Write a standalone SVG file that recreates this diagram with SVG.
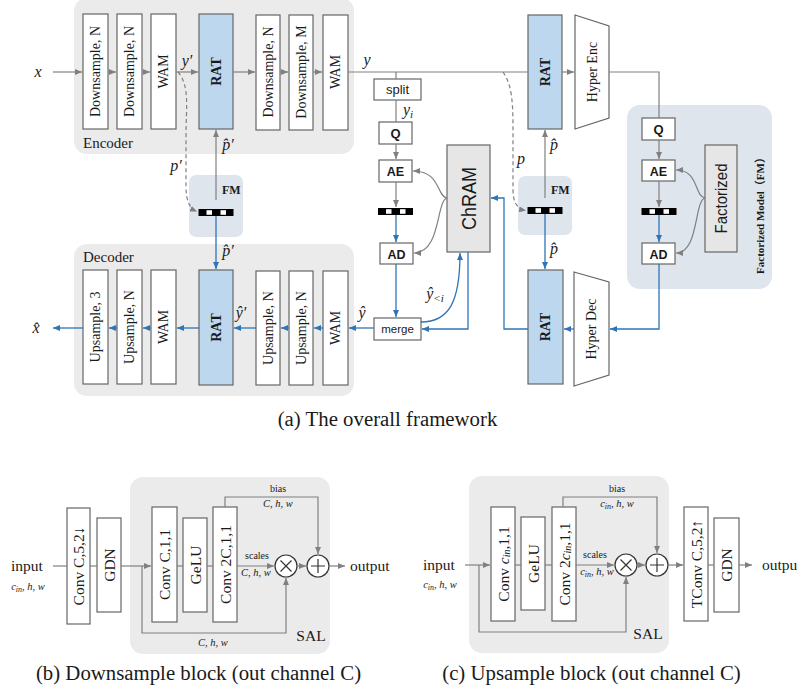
<svg xmlns="http://www.w3.org/2000/svg" width="797" height="698" viewBox="0 0 797 698">
  <style>
    .blk { fill: #ffffff; stroke: #666666; stroke-width: 1.2; }
    .rat { fill: #bdd7ee; stroke: #666666; stroke-width: 1.2; }
    .gbox { fill: #e6e6e6; stroke: #666666; stroke-width: 1.2; }
    .sbox { fill: #ffffff; stroke: #666666; stroke-width: 1.2; }
    .panel { fill: #ebebeb; }
    .fmpanel { fill: #dfe5ed; }
    .g { fill: none; stroke: #808080; stroke-width: 1.2; }
    .b { fill: none; stroke: #2f75b5; stroke-width: 1.3; }
    .dash { stroke-dasharray: 4 3; }
    .t { font-family: "Liberation Serif", "Times New Roman", serif; fill: #1a1a1a; }
    .vt { font-family: "Liberation Serif", "Times New Roman", serif; fill: #1a1a1a; font-size: 14px; text-anchor: middle; dominant-baseline: central; }
    .vb { font-weight: bold; }
    .m { font-family: "Liberation Serif", "Times New Roman", serif; font-style: italic; font-size: 16px; fill: #1a1a1a; text-anchor: middle; }
    .sm { font-family: "Liberation Serif", "Times New Roman", serif; font-style: italic; font-size: 10.5px; fill: #1a1a1a; text-anchor: middle; }
    .sans { font-family: "Liberation Sans", Arial, sans-serif; fill: #1a1a1a; text-anchor: middle; }
    .cap { font-family: "Liberation Serif", "Times New Roman", serif; font-size: 20.8px; fill: #1a1a1a; text-anchor: middle; }
    .bt { font-size: 15.5px; }
    .op { fill: #ffffff; stroke: #333333; stroke-width: 1.2; }
  </style>
  <defs>
    <marker id="ag" markerUnits="userSpaceOnUse" markerWidth="7" markerHeight="6" refX="7" refY="3" orient="auto">
      <path d="M0,0 L7,3 L0,6 z" fill="#808080"/>
    </marker>
    <marker id="ab" markerUnits="userSpaceOnUse" markerWidth="7" markerHeight="6" refX="7" refY="3" orient="auto">
      <path d="M0,0 L7,3 L0,6 z" fill="#2f75b5"/>
    </marker>
    <g id="qstrip">
      <rect x="0" y="0" width="35" height="7" fill="#000000"/>
      <rect x="8" y="1.2" width="5.5" height="4.6" fill="#ffffff"/>
      <rect x="22" y="1.2" width="5.5" height="4.6" fill="#ffffff"/>
    </g>
  </defs>

  <!-- ===== (a) overall framework ===== -->
  <g id="encoder">
    <rect class="panel" x="74" y="-2" width="280" height="156" rx="13"/>
    <text class="t" x="83" y="148" font-size="15">Encoder</text>
    <g id="enc-ds1"><rect class="blk" x="83" y="14" width="25" height="115"/><text class="vt" transform="translate(95.5,71.5) rotate(-90)">Downsample, N</text></g>
    <g id="enc-ds2"><rect class="blk" x="117" y="14" width="25" height="115"/><text class="vt" transform="translate(129.5,71.5) rotate(-90)">Downsample, N</text></g>
    <g id="enc-wam1"><rect class="blk" x="151" y="14" width="25" height="115"/><text class="vt" transform="translate(163.5,71.5) rotate(-90)">WAM</text></g>
    <g id="enc-rat"><rect class="rat" x="199" y="14" width="34" height="115"/><text class="vt vb" transform="translate(216,71.5) rotate(-90)">RAT</text></g>
    <g id="enc-ds3"><rect class="blk" x="256" y="15" width="24" height="115"/><text class="vt" transform="translate(268,72) rotate(-90)">Downsample, N</text></g>
    <g id="enc-ds4"><rect class="blk" x="289" y="15" width="24" height="115"/><text class="vt" transform="translate(301,72) rotate(-90)">Downsample, M</text></g>
    <g id="enc-wam2"><rect class="blk" x="323" y="15" width="25" height="115"/><text class="vt" transform="translate(335.5,72) rotate(-90)">WAM</text></g>
  </g>

  <g id="decoder">
    <rect class="panel" x="74" y="244" width="280" height="152" rx="13"/>
    <text class="t" x="83" y="262" font-size="15">Decoder</text>
    <g id="dec-us3"><rect class="blk" x="83" y="270" width="25" height="114"/><text class="vt" transform="translate(95.5,327) rotate(-90)">Upsample, 3</text></g>
    <g id="dec-us2"><rect class="blk" x="117" y="270" width="25" height="114"/><text class="vt" transform="translate(129.5,327) rotate(-90)">Upsample, N</text></g>
    <g id="dec-wam1"><rect class="blk" x="151" y="270" width="25" height="114"/><text class="vt" transform="translate(163.5,327) rotate(-90)">WAM</text></g>
    <g id="dec-rat"><rect class="rat" x="199" y="270" width="34" height="115"/><text class="vt vb" transform="translate(216,327.5) rotate(-90)">RAT</text></g>
    <g id="dec-us1"><rect class="blk" x="256" y="271" width="24" height="114"/><text class="vt" transform="translate(268,328) rotate(-90)">Upsample, N</text></g>
    <g id="dec-us0"><rect class="blk" x="289" y="271" width="24" height="114"/><text class="vt" transform="translate(301,328) rotate(-90)">Upsample, N</text></g>
    <g id="dec-wam2"><rect class="blk" x="323" y="271" width="25" height="114"/><text class="vt" transform="translate(335.5,328) rotate(-90)">WAM</text></g>
  </g>

  <g id="fm-left">
    <rect class="fmpanel" x="189" y="175" width="54" height="62" rx="7"/>
    <text class="t" x="222" y="194" font-size="12" font-weight="bold">FM</text>
    <use href="#qstrip" x="198.5" y="209"/>
  </g>

  <g id="fm-mid">
    <rect class="fmpanel" x="518" y="176" width="54" height="59" rx="7"/>
    <text class="t" x="551" y="194" font-size="12" font-weight="bold">FM</text>
    <use href="#qstrip" x="527.5" y="207"/>
  </g>

  <g id="split"><rect class="sbox" x="374" y="79" width="47" height="21"/><text class="sans" x="397.5" y="94" font-size="13">split</text></g>
  <g id="q1"><rect class="sbox" x="379" y="122" width="33" height="22"/><text class="sans" x="395.5" y="138" font-size="13" font-weight="bold">Q</text></g>
  <g id="ae1"><rect class="sbox" x="379" y="160" width="33" height="22"/><text class="sans" x="395.5" y="176" font-size="12.5" font-weight="bold">AE</text></g>
  <g id="strip1"><use href="#qstrip" x="378" y="208"/></g>
  <g id="ad1"><rect class="sbox" x="380" y="243" width="33" height="21"/><text class="sans" x="396.5" y="258.5" font-size="12.5" font-weight="bold">AD</text></g>
  <g id="merge"><rect class="sbox" x="374" y="318" width="47" height="22"/><text class="sans" x="397.5" y="333" font-size="11.5">merge</text></g>
  <g id="chram"><rect class="gbox" x="447" y="145" width="43" height="107"/><text class="sans" transform="translate(468.5,198.5) rotate(-90)" font-size="20" dominant-baseline="central" textLength="63" lengthAdjust="spacingAndGlyphs">ChRAM</text></g>

  <g id="rat-hyper-enc"><rect class="rat" x="528" y="15" width="34" height="114"/><text class="vt vb" transform="translate(545,72) rotate(-90)">RAT</text></g>
  <g id="hyper-enc"><polygon class="blk" points="575,15 609,26 609,118 575,129"/><text class="vt" font-size="16" transform="translate(592,72) rotate(-90)">Hyper Enc</text></g>
  <g id="rat-hyper-dec"><rect class="rat" x="528" y="270" width="35" height="114"/><text class="vt vb" transform="translate(545.5,327) rotate(-90)">RAT</text></g>
  <g id="hyper-dec"><polygon class="blk" points="574,272 609,282 609,375 574,386"/><text class="vt" font-size="16" transform="translate(591.5,329) rotate(-90)">Hyper Dec</text></g>

  <g id="fm-right">
    <rect class="fmpanel" x="627" y="105" width="145" height="184" rx="13"/>
    <g id="q2"><rect class="sbox" x="642" y="118" width="33" height="22"/><text class="sans" x="658.5" y="134" font-size="13" font-weight="bold">Q</text></g>
    <g id="ae2"><rect class="sbox" x="642" y="160" width="33" height="21"/><text class="sans" x="658.5" y="175.5" font-size="12.5" font-weight="bold">AE</text></g>
    <use href="#qstrip" x="641.5" y="208"/>
    <g id="ad2"><rect class="sbox" x="642" y="243" width="33" height="21"/><text class="sans" x="658.5" y="258.5" font-size="12.5" font-weight="bold">AD</text></g>
    <g id="factorized"><rect class="gbox" x="705" y="145" width="32" height="107"/><text class="sans" transform="translate(721,198.5) rotate(-90)" font-size="17" dominant-baseline="central" textLength="70" lengthAdjust="spacingAndGlyphs">Factorized</text></g>
    <text class="t" transform="translate(760,213) rotate(-90)" font-size="11" font-weight="bold" text-anchor="middle" dominant-baseline="central" style="font-family:'Liberation Serif','Noto Sans CJK SC',serif">Factorized Model（FM）</text>
  </g>

  <!-- ===== (b) downsample block ===== -->
  <g id="sal-down">
    <rect class="panel" x="130" y="477" width="200" height="177" rx="13"/>
    <text class="t" x="311" y="641" font-size="15.5" text-anchor="middle">SAL</text>
  </g>
  <g id="down-in">
    <text class="t" x="27" y="571" font-size="15.5" text-anchor="middle">input</text>
    <text class="sm" x="28" y="590">c<tspan font-size="8" dy="2">in</tspan><tspan dy="-2">, h, w</tspan></text>
  </g>
  <g id="down-conv"><rect class="blk" x="67" y="508" width="23" height="116"/><text class="vt bt" transform="translate(78.5,566) rotate(-90)">Conv C,5,2↓</text></g>
  <g id="down-gdn"><rect class="blk" x="97" y="518" width="24" height="94"/><text class="vt bt" transform="translate(109,565) rotate(-90)">GDN</text></g>
  <g id="down-conv1"><rect class="blk" x="152" y="507" width="25" height="115"/><text class="vt bt" transform="translate(164.5,564.5) rotate(-90)">Conv C,1,1</text></g>
  <g id="down-gelu"><rect class="blk" x="183" y="518" width="24" height="94"/><text class="vt bt" transform="translate(195,565) rotate(-90)">GeLU</text></g>
  <g id="down-conv2"><rect class="blk" x="213" y="507" width="24" height="115"/><text class="vt bt" transform="translate(225,564.5) rotate(-90)">Conv 2C,1,1</text></g>
  <g id="down-mul"><circle class="op" cx="286" cy="566" r="11"/><path d="M280.5,560.5 L291.5,571.5 M291.5,560.5 L280.5,571.5" stroke="#333" stroke-width="1.2"/></g>
  <g id="down-add"><circle class="op" cx="318" cy="566" r="11"/><path d="M318,559 V573 M311,566 H325" stroke="#333" stroke-width="1.2"/></g>
  <g id="down-labels">
    <text class="t" x="278" y="492" font-size="10" text-anchor="middle">bias</text>
    <text class="sm" x="278" y="507">C, h, w</text>
    <text class="t" x="257" y="559" font-size="10" text-anchor="middle">scales</text>
    <text class="sm" x="256" y="576">C, h, w</text>
    <text class="sm" x="213" y="646">C, h, w</text>
    <text class="t" x="350" y="571" font-size="15.5">output</text>
  </g>

  <!-- ===== (c) upsample block ===== -->
  <g id="sal-up">
    <rect class="panel" x="469" y="476" width="200" height="177" rx="13"/>
    <text class="t" x="648" y="639" font-size="15.5" text-anchor="middle">SAL</text>
  </g>
  <g id="up-in">
    <text class="t" x="439" y="570" font-size="15.5" text-anchor="middle">input</text>
    <text class="sm" x="440" y="588">c<tspan font-size="8" dy="2">in</tspan><tspan dy="-2">, h, w</tspan></text>
  </g>
  <g id="up-conv1"><rect class="blk" x="491" y="507" width="24" height="114"/><text class="vt bt" transform="translate(503,564) rotate(-90)">Conv <tspan font-style="italic">c</tspan><tspan font-style="italic" font-size="10" dy="3">in</tspan><tspan dy="-3">,1,1</tspan></text></g>
  <g id="up-gelu"><rect class="blk" x="521" y="517" width="24" height="93"/><text class="vt bt" transform="translate(533,563.5) rotate(-90)">GeLU</text></g>
  <g id="up-conv2"><rect class="blk" x="552" y="507" width="24" height="114"/><text class="vt bt" transform="translate(564,564) rotate(-90)">Conv 2<tspan font-style="italic">c</tspan><tspan font-style="italic" font-size="10" dy="3">in</tspan><tspan dy="-3">,1,1</tspan></text></g>
  <g id="up-mul"><circle class="op" cx="626" cy="565" r="11"/><path d="M620.5,559.5 L631.5,570.5 M631.5,559.5 L620.5,570.5" stroke="#333" stroke-width="1.2"/></g>
  <g id="up-add"><circle class="op" cx="657" cy="565" r="11"/><path d="M657,558 V572 M650,565 H664" stroke="#333" stroke-width="1.2"/></g>
  <g id="up-tconv"><rect class="blk" x="684" y="507" width="24" height="114"/><text class="vt bt" transform="translate(696,564) rotate(-90)">TConv C,5,2↑</text></g>
  <g id="up-gdn"><rect class="blk" x="714" y="518" width="25" height="94"/><text class="vt bt" transform="translate(726.5,565) rotate(-90)">GDN</text></g>
  <g id="up-labels">
    <text class="t" x="617" y="492" font-size="10" text-anchor="middle">bias</text>
    <text class="sm" x="617" y="507">c<tspan font-size="8" dy="2">in</tspan><tspan dy="-2">, h, w</tspan></text>
    <text class="t" x="595" y="558" font-size="10" text-anchor="middle">scales</text>
    <text class="sm" x="597" y="575">c<tspan font-size="8" dy="2">in</tspan><tspan dy="-2">, h, w</tspan></text>
    <text class="t" x="762" y="570" font-size="15.5">outpu</text>
  </g>

  <g id="connectors">
    <!-- encoder path -->
    <path class="g" d="M53,72 H82" marker-end="url(#ag)"/>
    <path class="g" d="M108,72 H116" marker-end="url(#ag)"/>
    <path class="g" d="M142,72 H150" marker-end="url(#ag)"/>
    <path class="g" d="M176,72 H198" marker-end="url(#ag)"/>
    <path class="g" d="M233,72 H255" marker-end="url(#ag)"/>
    <path class="g" d="M280,72 H288" marker-end="url(#ag)"/>
    <path class="g" d="M313,72 H322" marker-end="url(#ag)"/>
    <path class="g" d="M348,72 H528"/>
    <path class="g" d="M562,72 H574" marker-end="url(#ag)"/>
    <path class="g" d="M609,72 H659 V118"/>
    <!-- side information -->
    <path class="g dash" d="M178,72 C190,86 186,108 186,135 L186,186 C186,200 189,208 197,211.5" marker-end="url(#ag)"/>
    <path class="g dash" d="M503,72 C512,85 513,102 513,130 L513,190 C513,202 517,209 526,210.5" marker-end="url(#ag)"/>
    <path class="g" d="M216,200 V130" marker-end="url(#ag)"/>
    <path class="b" d="M216,216 V269" marker-end="url(#ab)"/>
    <path class="g" d="M545,198 V130" marker-end="url(#ag)"/>
    <path class="b" d="M545,214 V269" marker-end="url(#ab)"/>
    <!-- channel-wise entropy coding -->
    <path class="g" d="M396,72 V79"/>
    <path class="g" d="M396,100 V122"/>
    <path class="g" d="M396,144 V159" marker-end="url(#ag)"/>
    <path class="g" d="M396,182 V207" marker-end="url(#ag)"/>
    <path class="b" d="M396,215 V242" marker-end="url(#ab)"/>
    <path class="b" d="M396,264 V317" marker-end="url(#ab)"/>
    <path class="g" d="M447,198 C436,196 441,171 413,171" marker-end="url(#ag)"/>
    <path class="g" d="M447,198 C436,201 441,253 414,253" marker-end="url(#ag)"/>
    <path class="b" d="M421,322 C449,322 460,302 460,253" marker-end="url(#ab)"/>
    <path class="b" d="M468,252 V329 H422" marker-end="url(#ab)"/>
    <path class="b" d="M528,329 H504 V198 H491" marker-end="url(#ab)"/>
    <!-- hyperprior branch -->
    <path class="g" d="M659,140 V159" marker-end="url(#ag)"/>
    <path class="g" d="M659,181 V207" marker-end="url(#ag)"/>
    <path class="b" d="M659,215 V242" marker-end="url(#ab)"/>
    <path class="g" d="M705,198 C694,196 699,170 676,170" marker-end="url(#ag)"/>
    <path class="g" d="M705,198 C694,201 699,253 676,253" marker-end="url(#ag)"/>
    <path class="b" d="M659,264 V329 H610" marker-end="url(#ab)"/>
    <path class="b" d="M574,329 H564" marker-end="url(#ab)"/>
    <!-- decoder path -->
    <path class="b" d="M374,328 H349" marker-end="url(#ab)"/>
    <path class="b" d="M323,328 H314" marker-end="url(#ab)"/>
    <path class="b" d="M289,328 H281" marker-end="url(#ab)"/>
    <path class="b" d="M256,328 H234" marker-end="url(#ab)"/>
    <path class="b" d="M199,328 H177" marker-end="url(#ab)"/>
    <path class="b" d="M151,328 H143" marker-end="url(#ab)"/>
    <path class="b" d="M117,328 H109" marker-end="url(#ab)"/>
    <path class="b" d="M83,328 H53" marker-end="url(#ab)"/>

    <!-- (b) downsample block -->
    <path class="g" d="M53,566 H67"/>
    <path class="g" d="M90,566 H97"/>
    <path class="g" d="M121,566 H151" marker-end="url(#ag)"/>
    <path class="g" d="M142,566 V633 H286 V578" marker-end="url(#ag)"/>
    <path class="g" d="M177,566 H183"/>
    <path class="g" d="M207,566 H213"/>
    <path class="g" d="M237,566 H274" marker-end="url(#ag)"/>
    <path class="g" d="M297,566 H306" marker-end="url(#ag)"/>
    <path class="g" d="M329,566 H345" marker-end="url(#ag)"/>
    <path class="g" d="M225,507 V497 H318 V554" marker-end="url(#ag)"/>

    <!-- (c) upsample block -->
    <path class="g" d="M465,565 H490" marker-end="url(#ag)"/>
    <path class="g" d="M479,565 V632 H626 V577" marker-end="url(#ag)"/>
    <path class="g" d="M515,565 H521"/>
    <path class="g" d="M545,565 H552"/>
    <path class="g" d="M576,565 H614" marker-end="url(#ag)"/>
    <path class="g" d="M637,565 H645" marker-end="url(#ag)"/>
    <path class="g" d="M668,565 H683" marker-end="url(#ag)"/>
    <path class="g" d="M708,565 H714"/>
    <path class="g" d="M739,565 H752" marker-end="url(#ag)"/>
    <path class="g" d="M563,507 V497 H657 V553" marker-end="url(#ag)"/>
  </g>

  <g id="math-labels">
    <text class="m" x="38" y="77">x</text>
    <text class="m" x="187" y="66">y′</text>
    <text class="m" x="367" y="65">y</text>
    <text class="m" x="176" y="171">p′</text>
    <text class="m" x="228" y="150">p̂′</text>
    <text class="m" x="228" y="256">p̂′</text>
    <text class="m" x="241" y="318">ŷ′</text>
    <text class="m" x="362" y="318">ŷ</text>
    <text class="m" x="36" y="333">x̂</text>
    <text class="m" x="408" y="115">y<tspan font-size="11" dy="3">i</tspan></text>
    <text class="m" x="521" y="164">p</text>
    <text class="m" x="554" y="150">p̂</text>
    <text class="m" x="554" y="254">p̂</text>
    <text class="m" x="435" y="299">ŷ<tspan font-size="11" dy="3">&lt;i</tspan></text>
  </g>

  <g id="captions">
    <text class="cap" x="387.5" y="426">(a) The overall framework</text>
    <text class="cap" x="198.5" y="680">(b) Downsample block (out channel C)</text>
    <text class="cap" x="591.5" y="680">(c) Upsample block (out channel C)</text>
  </g>
</svg>
